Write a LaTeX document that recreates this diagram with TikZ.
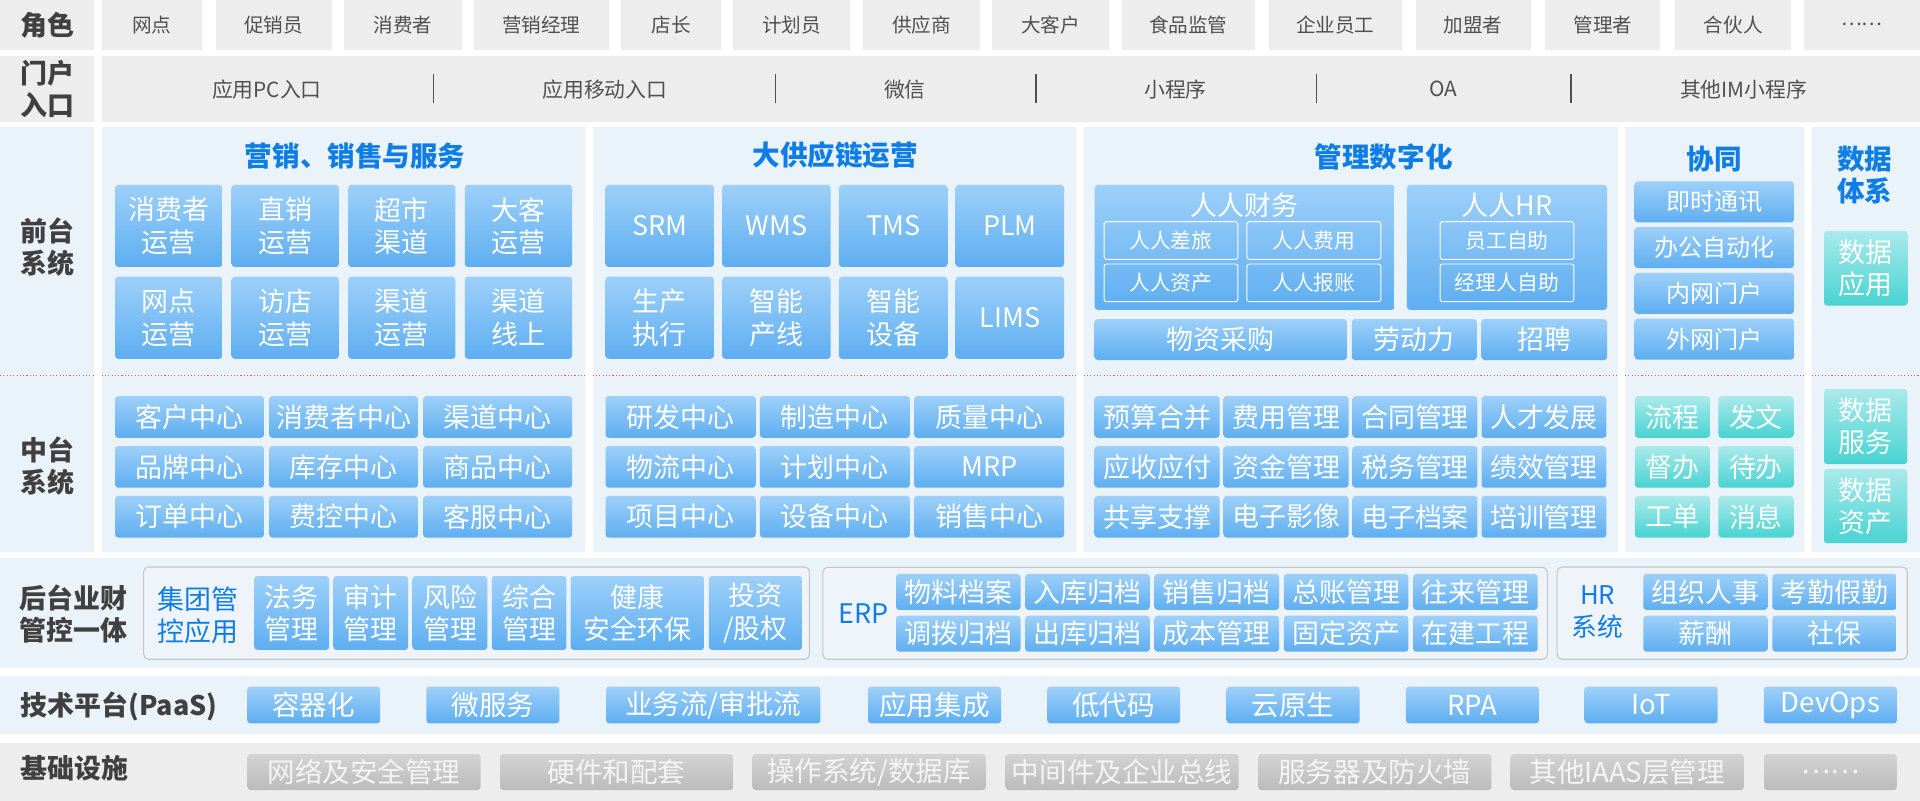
\documentclass[tikz,border=0pt]{standalone}
\usepackage{fontspec}
\usepackage{xcolor}
\usepackage{tikz}
\setmainfont{Noto Sans CJK SC}
\usetikzlibrary{calc}

\definecolor{panel}{HTML}{EAF2FA}
\definecolor{greyrow}{HTML}{EDEDED}
\definecolor{btntop}{HTML}{9DD0F9}
\definecolor{btnbot}{HTML}{5EAEF1}
\definecolor{tealtop}{HTML}{AAEAEA}
\definecolor{tealbot}{HTML}{47D3D2}
\definecolor{infratop}{HTML}{D3D3D3}
\definecolor{infrabot}{HTML}{BBBBBB}
\definecolor{infratext}{HTML}{F4F4F4}
\definecolor{titleblue}{HTML}{0E7EE6}
\definecolor{labelgrey}{HTML}{404040}
\definecolor{rolegrey}{HTML}{505050}
\definecolor{groupline}{HTML}{C6C6C6}
\definecolor{groupfill}{HTML}{EEF4FA}
\definecolor{dotred}{HTML}{E25A5A}

\begin{document}
\begin{tikzpicture}[x=1pt,y=-1pt]
            \tikzset{rowlabel/.style = {text=labelgrey, inner sep=0pt, align=center, font=\fontsize{22}{26}\selectfont\bfseries}}
            \tikzset{rolecell/.style = {fill=greyrow, text=rolegrey, inner sep=0pt, minimum height=40.5, font=\fontsize{16}{20}\selectfont}}
            \tikzset{entry/.style = {text=rolegrey, inner sep=0pt, font=\fontsize{17}{20}\selectfont}}
            \tikzset{sectitle/.style = {text=titleblue, inner sep=0pt, align=center, font=\fontsize{22.5}{26}\selectfont\bfseries}}
            \tikzset{btn/.style = {rounded corners=2.5pt, top color=btntop, bottom color=btnbot, text=white, inner sep=0pt, align=center, font=\fontsize{22}{26.5}\selectfont}}
            \tikzset{tealbtn/.style = {btn, top color=tealtop, bottom color=tealbot}}
            \tikzset{greybtn/.style = {btn, top color=infratop, bottom color=infrabot, text=infratext, font=\fontsize{22.5}{26}\selectfont}}
            \tikzset{ghost/.style = {draw=white, line width=0.8pt, rounded corners=2pt, text=white, inner sep=0pt, font=\fontsize{17}{20}\selectfont}}
            \tikzset{groupbox/.style = {draw=groupline, fill=groupfill, line width=0.9pt, rounded corners=4pt, inner sep=0pt}}
            \tikzset{bluetxt/.style = {text=titleblue, inner sep=0pt, align=center, font=\fontsize{22}{26}\selectfont}}
            \tikzset{dotline/.style = {dotred, line width=0.9pt, dash pattern=on 0.9pt off 1.8pt}}
            \tikzset{sepline/.style = {draw=rolegrey, line width=1.2pt}}

            \useasboundingbox (0,0) rectangle (1568,654);

            % panels
            \fill[greyrow] (0,0) rectangle (77,40.5);
            \fill[greyrow] (0,46) rectangle (77,99.6);
            \fill[greyrow] (83,46) rectangle (1568,99.6);
            \fill[panel] (0,104) rectangle (77,450.5);
            \draw[dotline] (0,307) -- (77,307);
            \foreach \a/\b in {83/478,484/879,885/1321,1327/1473,1479.5/1568}
            {
              \fill[panel] (\a,104) rectangle (\b,450.5);
              \draw[dotline] (\a,307) -- (\b,307);
            }
            \fill[panel] (0,456) rectangle (1568,545.3);
            \fill[panel] (0,552) rectangle (1568,599.4);
            \fill[greyrow] (0,606.5) rectangle (1568,654);

            % row labels
            \node[rowlabel] (roles) at (38.5,20.3) {角色};
            \node[rowlabel] (portal) at (38.5,72.8) {门户\\入口};
            \node[rowlabel] (front) at (38.5,202) {前台\\系统};
            \node[rowlabel] (middle) at (38.5,380.4) {中台\\系统};
            \node[rowlabel, anchor=west, align=left] (back) at (16,501.6) {后台业财\\管控一体};
            \node[rowlabel, anchor=west] (paas) at (16.7,577) {技术平台(PaaS)};
            \node[rowlabel, anchor=west] (infra) at (16.7,627.5) {基础设施};

            % roles
            \foreach \a/\b/\t [count=\i] in {83/165/网点, 176/271/促销员, 281/377/消费者, 387/497/营销经理, 507/589/店长, 599/694/计划员, 705/800/供应商, 810/906/大客户, 916/1025/食品监管, 1036/1145/企业员工, 1156/1250/加盟者, 1262/1356/管理者, 1368/1463/合伙人, 1473/1568/……}
              \node[rolecell, minimum width=\b-\a] (role\i) at ({(\a+\b)/2},20.25) {\t};

            % entries
            \foreach \x/\t [count=\i] in {218/应用PC入口, 494/应用移动入口, 739/微信, 960/小程序, 1178.6/OA, 1424/其他IM小程序}
              \node[entry] (entry\i) at (\x,72.8) {\t};
            \foreach \x in {354,633.4,846,1075,1283} {\draw[sepline] (\x,60.4) -- (\x,84.4);}

            % section titles
            \node[sectitle] (mktitle) at (290,127) {营销、销售与服务};
            \node[sectitle] (sctitle) at (682,127) {大供应链运营};
            \node[sectitle] (mgtitle) at (1130,128) {管理数字化};
            \node[sectitle] (cotitle) at (1400,130) {协同};
            \node[sectitle] (dttitle) at (1523,143) {数据\\体系};

            % front systems
            \foreach \y/\row [count=\j] in {184.5/{消费者\\运营,直销\\运营,超市\\渠道,大客\\运营}, 259.5/{网点\\运营,访店\\运营,渠道\\运营,渠道\\线上}}
              \foreach \t [count=\i] in \row
                \node[btn, minimum width=87.5, minimum height=67] (mk\j\i) at ({137.8+95.2*(\i-1)},\y) {\t};
            \foreach \y/\row [count=\j] in {184.5/{SRM,WMS,TMS,PLM}, 259.5/{生产\\执行,智能\\产线,智能\\设备,LIMS}}
              \foreach \t [count=\i] in \row
                \node[btn, minimum width=88.5, minimum height=67] (sc\j\i) at ({538.8+95.3*(\i-1)},\y) {\t};

            \node[btn, minimum width=245, minimum height=102] (fin) at (1016.5,202) {};
            \node[text=white, font=\fontsize{22}{26}\selectfont] (fintitle) at (1016.5,167.4) {人人财务};
            \node[ghost, minimum width=109.4, minimum height=30.8] (fin1) at (956.3,196.4) {人人差旅};
            \node[ghost, minimum width=109.4, minimum height=30.8] (fin2) at (1073,196.4) {人人费用};
            \node[ghost, minimum width=109.4, minimum height=30.8] (fin3) at (956.3,231) {人人资产};
            \node[ghost, minimum width=109.4, minimum height=30.8] (fin4) at (1073,231) {人人报账};
            \node[btn, minimum width=163.4, minimum height=102] (hr) at (1230.7,202) {};
            \node[text=white, font=\fontsize{22}{26}\selectfont] (hrtitle) at (1230.7,167.4) {人人HR};
            \node[ghost, minimum width=109.4, minimum height=30.8] (hr1) at (1230.7,196.4) {员工自助};
            \node[ghost, minimum width=109.4, minimum height=30.8] (hr2) at (1230.7,231) {经理人自助};
            \node[btn, minimum width=206, minimum height=33.4] (buy) at (997,277.3) {物资采购};
            \node[btn, minimum width=102, minimum height=33.4] (labor) at (1155,277.3) {劳动力};
            \node[btn, minimum width=102.4, minimum height=33.4] (hire) at (1261.2,277.3) {招聘};

            \foreach \t [count=\i] in {即时通讯,办公自动化,内网门户,外网门户}
              \node[btn, minimum width=130, minimum height=33.5, font=\fontsize{19.6}{22}\selectfont] (co\i) at (1400,{164.8+37.4*(\i-1)}) {\t};
            \node[tealbtn, minimum width=68, minimum height=61] (dtapp) at (1523.7,219.1) {数据\\应用};

            % middle systems
            \foreach \y/\row [count=\j] in {340.5/{客户中心,消费者中心,渠道中心}, 381.3/{品牌中心,库存中心,商品中心}, 422/{订单中心,费控中心,客服中心}}
              \foreach \t [count=\i] in \row
                \node[btn, minimum width=121.5, minimum height=34] (mkc\j\i) at ({154.8+125.8*(\i-1)},\y) {\t};
            \foreach \y/\row [count=\j] in {340.5/{研发中心,制造中心,质量中心}, 381.3/{物流中心,计划中心,MRP}, 422/{项目中心,设备中心,销售中心}}
              \foreach \t [count=\i] in \row
                \node[btn, minimum width=122.4, minimum height=34] (scc\j\i) at ({555.8+126*(\i-1)},\y) {\t};
            \foreach \y/\row [count=\j] in {340.5/{预算合并,费用管理,合同管理,人才发展}, 381.3/{应收应付,资金管理,税务管理,绩效管理}, 422/{共享支撑,电子影像,电子档案,培训管理}}
              \foreach \t [count=\i] in \row
                \node[btn, minimum width=102, minimum height=34] (mgc\j\i) at ({945+105.3*(\i-1)},\y) {\t};
            \foreach \y/\row [count=\j] in {340.5/{流程,发文}, 381.3/{督办,待办}, 422/{工单,消息}}
              \foreach \t [count=\i] in \row
                \node[tealbtn, minimum width=61.2, minimum height=34] (flow\j\i) at ({1365.8+68.2*(\i-1)},\y) {\t};
            \node[tealbtn, minimum width=68, minimum height=61.3] (dtsrv) at (1523.6,348.3) {数据\\服务};
            \node[tealbtn, minimum width=68, minimum height=60.6] (dtasset) at (1523.6,413.3) {数据\\资产};

            % back office
            \node[groupbox, minimum width=543.7, minimum height=75.4] (group) at (389.15,500.7) {};
            \node[groupbox, minimum width=591.7, minimum height=75.1] (erp) at (967.85,500.85) {};
            \node[groupbox, minimum width=286, minimum height=75.4] (hrsys) at (1414.6,500.7) {};
            \node[bluetxt] (grouptxt) at (161.6,502.5) {集团管\\控应用};
            \foreach \x/\w/\t [count=\i] in {238.2/61/法务\\管理, 302.8/61/审计\\管理, 367.5/61/风险\\管理, 432.1/61/综合\\管理, 520.5/109/健康\\安全环保}
              \node[btn, minimum width=\w, minimum height=60.4] (grp\i) at (\x,500.6) {\t};
            \node[btn, minimum width=76, minimum height=60.4] (grp6) at (617,500.6) {投资\\/股权};
            \node[bluetxt] (erptxt) at (705.6,500.9) {ERP};
            \foreach \y/\row [count=\j] in {483.4/{物料档案,入库归档,销售归档,总账管理,往来管理}, 517.5/{调拨归档,出库归档,成本管理,固定资产,在建工程}}
              \foreach \t [count=\i] in \row
                \node[btn, minimum width=101.7, minimum height=29.3] (erp\j\i) at ({782.6+105.575*(\i-1)},\y) {\t};
            \node[bluetxt, font=\fontsize{21}{26}\selectfont] (hrtxt) at (1304.7,499.8) {HR\\系统};
            \foreach \y/\row [count=\j] in {483.4/{组织人事,考勤假勤}, 517.5/{薪酬,社保}}
              \foreach \t [count=\i] in \row
                \node[btn, minimum width=101.4, minimum height=29.3] (hrs\j\i) at ({1392.7+105.5*(\i-1)},\y) {\t};

            % paas
            \foreach \x/\t [count=\i] in {256.2/容器化, 402.5/微服务, 763.2/应用集成, 909.5/低代码, 1056.1/云原生, 1202.5/RPA, 1348.4/IoT, 1494.8/DevOps}
              \node[btn, minimum width=108.6, minimum height=30, font=\fontsize{22.5}{26}\selectfont] (paas\i) at (\x,575.7) {\t};
            \node[btn, minimum width=175, minimum height=30, font=\fontsize{22.5}{26}\selectfont] (paasflow) at (582.5,575.7) {业务流/审批流};

            % infrastructure
            \foreach \x/\t [count=\i] in {297.3/网络及安全管理, 503.5/硬件和配套, 916.4/中间件及企业总线, 1122.8/服务器及防火墙, 1328.9/其他IAAS层管理}
              \node[greybtn, minimum width=190.3, minimum height=29.4] (infra\i) at (\x,630.5) {\t};
            \node[greybtn, minimum width=190.5, minimum height=29.4] (infraos) at (709.8,630.5) {操作系统/数据库};
            \node[greybtn, minimum width=108.4, minimum height=29.4] (infradots) at (1494.8,630.5) {……};

          \end{tikzpicture}
\end{document}
